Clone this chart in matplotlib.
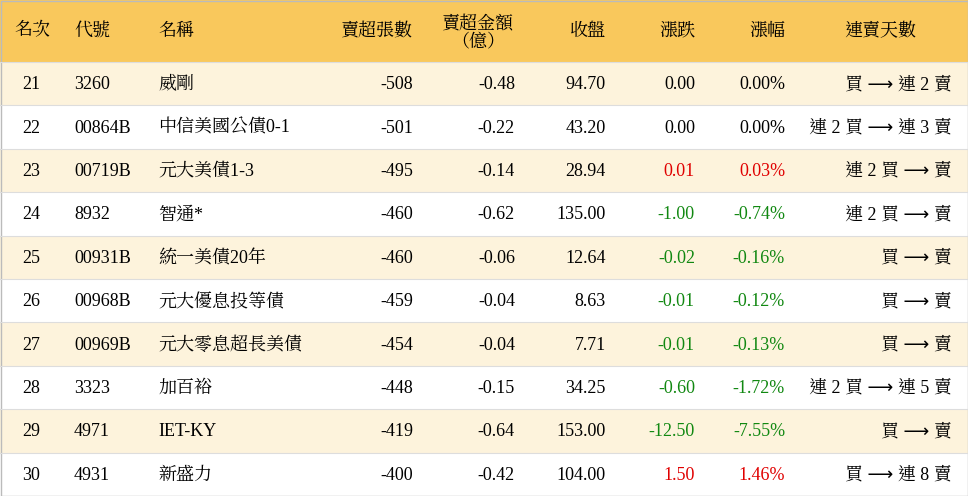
import matplotlib.pyplot as plt
from matplotlib.patches import Rectangle

headers = ['名次', '代號', '名稱', '賣超張數', '賣超金額\n（億）', '收盤', '漲跌', '漲幅', '連賣天數']
ranks = ['21', '22', '23', '24', '25', '26', '27', '28', '29', '30']
codes = ['3260', '00864B', '00719B', '8932', '00931B', '00968B', '00969B', '3323', '4971', '4931']
names = ['威剛', '中信美國公債0-1', '元大美債1-3', '智通*', '統一美債20年', '元大優息投等債',
         '元大零息超長美債', '加百裕', 'IET-KY', '新盛力']
net_sell = [-508, -501, -495, -460, -460, -459, -454, -448, -419, -400]
amount = [-0.48, -0.22, -0.14, -0.62, -0.06, -0.04, -0.04, -0.15, -0.64, -0.42]
close = [94.70, 43.20, 28.94, 135.00, 12.64, 8.63, 7.71, 34.25, 153.00, 104.00]
change = [0.00, 0.00, 0.01, -1.00, -0.02, -0.01, -0.01, -0.60, -12.50, 1.50]
pct = [0.00, 0.00, 0.03, -0.74, -0.16, -0.12, -0.13, -1.72, -7.55, 1.46]
streak = ['買 ⟶ 連 2 賣', '連 2 買 ⟶ 連 3 賣', '連 2 買 ⟶ 賣', '連 2 買 ⟶ 賣', '買 ⟶ 賣',
          '買 ⟶ 賣', '買 ⟶ 賣', '連 2 買 ⟶ 連 5 賣', '買 ⟶ 賣', '買 ⟶ 連 8 賣']

W, H = 968, 496
head_h = 62
row_h = (H - head_h) / len(ranks)
font = ['Liberation Serif', 'Noto Serif CJK TC', 'Noto Sans CJK TC', 'DejaVu Sans']
fs = 13

fig = plt.figure(figsize=(W / 100, H / 100), dpi=100)
ax = fig.add_axes([0, 0, 1, 1])
ax.set_xlim(0, W)
ax.set_ylim(H, 0)
ax.axis('off')

ax.add_patch(Rectangle((0, 0), W, head_h, color='#F9C85C', lw=0))
hpos = [(14, 'left'), (74, 'left'), (158, 'left'), (413, 'right'), (478, 'center'),
        (606, 'right'), (695, 'right'), (785, 'right'), (880, 'center')]
for (x, ha), h in zip(hpos, headers):
    ax.text(x, 31 if '\n' not in h else 33, h, ha=ha, va='center', fontsize=fs,
            family=font, linespacing=1.0)

def col(v):
    if v > 0:
        return '#E00000'
    if v < 0:
        return '#118811'
    return 'black'

for i in range(len(ranks)):
    y0 = head_h + i * row_h
    ax.add_patch(Rectangle((0, y0), W, row_h, color='#FDF3DC' if i % 2 == 0 else 'white', lw=0))
    ax.plot([0, W], [y0, y0], color='#DDDDDD', lw=0.8)
    yc = y0 + row_h / 2 + 1
    ax.text(22, yc, ranks[i], ha='left', va='center', fontsize=fs, family=font)
    ax.text(74, yc, codes[i], ha='left', va='center', fontsize=fs, family=font)
    ax.text(158, yc, names[i], ha='left', va='center', fontsize=fs, family=font)
    ax.text(413, yc, f'{net_sell[i]}', ha='right', va='center', fontsize=fs, family=font)
    ax.text(515, yc, f'{amount[i]:.2f}', ha='right', va='center', fontsize=fs, family=font)
    ax.text(606, yc, f'{close[i]:.2f}', ha='right', va='center', fontsize=fs, family=font)
    ax.text(695, yc, f'{change[i]:.2f}', ha='right', va='center', fontsize=fs, family=font,
            color=col(change[i]))
    ax.text(785, yc, f'{pct[i]:.2f}%', ha='right', va='center', fontsize=fs, family=font,
            color=col(pct[i]))
    ax.text(952, yc, streak[i], ha='right', va='center', fontsize=fs, family=font)

ax.add_patch(Rectangle((0.5, 0.5), W - 1, H - 1, fill=False, ec='#BBBBBB', lw=1))
fig.savefig('out.png', dpi=100)
